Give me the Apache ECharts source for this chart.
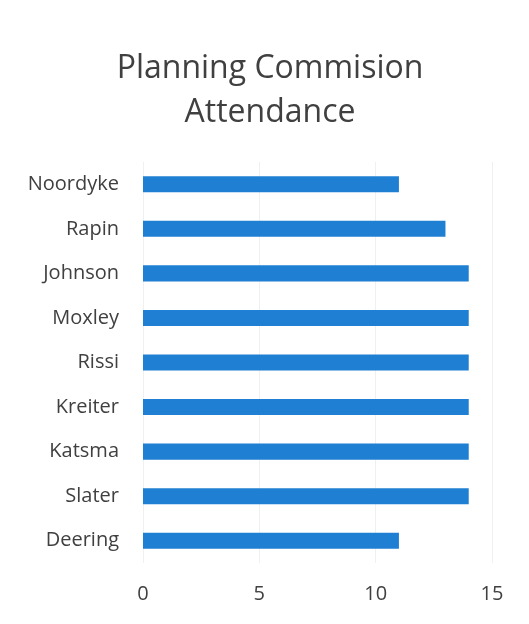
<!DOCTYPE html>
<html>
<head>
<meta charset="utf-8">
<style>
  html, body { margin: 0; padding: 0; background: #ffffff; }
  #chart { width: 529px; height: 624px; }
</style>
<script src="https://cdn.jsdelivr.net/npm/echarts@6/dist/echarts.min.js"></script>
</head>
<body>
<div id="chart"></div>
<script>
// Commissioners listed bottom-to-top (category axis runs upward)
const members = ['Deering', 'Slater', 'Katsma', 'Kreiter', 'Rissi', 'Moxley', 'Johnson', 'Rapin', 'Noordyke'];
// Meetings attended by each commissioner
const attendance = [11, 14, 14, 14, 14, 14, 14, 13, 11];
const xTicks = [0, 5, 10, 15];

const textColor = '#404040';
const font = '"Open Sans", "Noto Sans", sans-serif';

const chart = echarts.init(document.getElementById('chart'), null, { renderer: 'canvas' });
chart.setOption({
  backgroundColor: '#ffffff',
  animation: false,
  title: {
    text: 'Planning Commision\nAttendance',
    left: 265,
    textAlign: 'center',
    top: 42,
    textStyle: {
      fontFamily: font,
      fontSize: 32,
      fontWeight: 'normal',
      color: textColor,
      lineHeight: 44
    }
  },
  grid: {
    left: 143,
    right: 37,
    top: 162,
    bottom: 61,
    containLabel: false
  },
  xAxis: {
    type: 'value',
    min: xTicks[0],
    max: xTicks[xTicks.length - 1],
    interval: xTicks[1] - xTicks[0],
    axisLine: { show: false },
    axisTick: { show: false },
    splitLine: { show: true, lineStyle: { color: '#f0f0f0', width: 1 } },
    axisLabel: {
      margin: 21,
      fontFamily: font,
      fontSize: 20,
      color: textColor
    }
  },
  yAxis: {
    type: 'category',
    data: members,
    axisLine: { show: false },
    axisTick: { show: false },
    axisLabel: {
      margin: 24,
      fontFamily: font,
      fontSize: 20,
      color: textColor
    }
  },
  series: [{
    type: 'bar',
    data: attendance,
    barWidth: '36%',
    itemStyle: { color: '#1f7fd2' }
  }]
});
</script>
</body>
</html>
